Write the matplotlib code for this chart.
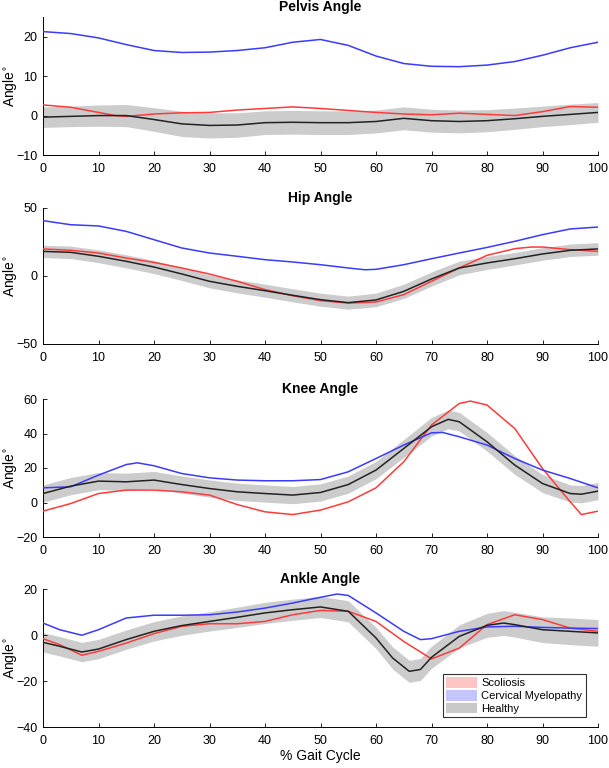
import matplotlib
matplotlib.use("Agg")
import matplotlib.pyplot as plt
from matplotlib.patches import Patch
import numpy as np

plt.rcParams['font.family'] = ['Liberation Sans', 'DejaVu Sans']

titles = ["Pelvis Angle", "Hip Angle", "Knee Angle", "Ankle Angle"]
ylims = [(-10, 25), (-50, 50), (-20, 60), (-40, 20)]
yticks = [[-10, 0, 10, 20], [-50, 0, 50], [-20, 0, 20, 40, 60], [-40, -20, 0, 20]]
legend_labels = ["Scoliosis", "Cervical Myelopathy", "Healthy"]

# ---- Pelvis ----
pelvis_blue_x = [0, 5, 10, 15, 20, 25, 30, 35, 40, 45, 50, 55, 60, 65, 70, 75, 80, 85, 90, 95, 100]
pelvis_blue_y = [21.3, 20.8, 19.7, 18.0, 16.5, 16.0, 16.1, 16.5, 17.2, 18.6, 19.3, 17.8, 15.1, 13.2, 12.5, 12.4, 12.8, 13.7, 15.3, 17.2, 18.6]
pelvis_red_x = [0, 5, 10, 13, 15, 20, 25, 30, 35, 40, 45, 50, 55, 60, 65, 70, 75, 80, 85, 90, 95, 100]
pelvis_red_y = [2.7, 2.1, 0.8, 0.0, -0.2, 0.4, 0.7, 0.8, 1.4, 1.8, 2.2, 1.8, 1.3, 0.8, 0.4, 0.2, 0.6, 0.3, 0.0, 1.0, 2.3, 2.1]
pelvis_black_x = [0, 5, 10, 15, 20, 25, 30, 35, 40, 45, 50, 55, 60, 65, 70, 75, 80, 85, 90, 95, 100]
pelvis_black_y = [-0.4, -0.2, 0.0, 0.0, -1.0, -2.1, -2.5, -2.4, -1.8, -1.7, -1.8, -1.8, -1.5, -0.7, -1.3, -1.5, -1.3, -0.8, -0.2, 0.3, 0.8]
pelvis_std = [2.6, 2.6, 2.7, 2.8, 3.0, 3.2, 3.2, 3.1, 3.0, 3.0, 3.0, 3.0, 2.9, 2.9, 2.9, 2.9, 2.8, 2.7, 2.6, 2.6, 2.5]

# ---- Hip ----
hip_blue_x = [0, 5, 10, 15, 20, 25, 30, 35, 40, 45, 50, 55, 58, 60, 65, 70, 75, 80, 85, 90, 95, 100]
hip_blue_y = [40.7, 37.7, 36.8, 32.8, 26.7, 20.6, 16.9, 14.5, 12.0, 10.3, 8.3, 5.9, 4.6, 4.9, 8.3, 12.7, 16.9, 21.0, 25.5, 30.4, 34.6, 36.0]
hip_red_x = [0, 5, 10, 15, 20, 25, 30, 35, 40, 45, 50, 55, 60, 65, 70, 75, 80, 85, 88, 90, 95, 100]
hip_red_y = [19.9, 18.9, 16.9, 13.2, 10.0, 5.9, 1.5, -3.9, -10.0, -14.5, -18.1, -19.9, -19.1, -13.7, -3.9, 5.9, 15.2, 20.1, 21.3, 21.3, 19.4, 18.1]
hip_black_x = [0, 5, 10, 15, 20, 25, 30, 35, 40, 45, 50, 55, 60, 65, 70, 75, 80, 85, 90, 95, 100]
hip_black_y = [18.1, 17.4, 14.5, 10.8, 6.6, 1.5, -3.9, -7.6, -10.8, -14.2, -17.4, -19.6, -17.6, -11.3, -2.2, 5.9, 9.6, 12.7, 16.2, 18.9, 19.9]
hip_std = [4.5, 4.6, 4.7, 4.8, 4.8, 4.8, 4.8, 4.8, 4.8, 4.8, 4.8, 4.8, 5.0, 5.2, 5.2, 5.0, 4.8, 4.6, 4.6, 4.6, 4.6]

# ---- Knee ----
knee_blue_x = [0, 5, 10, 15, 17, 20, 25, 30, 35, 40, 45, 50, 55, 60, 65, 70, 72, 75, 80, 85, 90, 95, 100]
knee_blue_y = [8.5, 9.1, 15.9, 22.0, 23.0, 21.3, 16.8, 14.3, 13.0, 12.6, 12.6, 13.3, 17.8, 25.5, 33.3, 40.4, 40.6, 38.1, 33.3, 25.5, 18.8, 13.9, 8.5]
knee_red_x = [0, 5, 10, 15, 20, 25, 30, 35, 40, 45, 50, 55, 60, 65, 70, 75, 77, 80, 85, 90, 95, 97, 100]
knee_red_y = [-5.0, -0.6, 5.2, 7.2, 7.2, 6.2, 4.3, -1.2, -5.4, -7.0, -4.4, 0.4, 8.5, 23.6, 44.9, 57.4, 58.8, 56.5, 42.9, 19.7, 0.4, -7.0, -5.0]
knee_black_x = [0, 5, 10, 15, 20, 25, 30, 35, 40, 45, 50, 55, 60, 65, 70, 73, 75, 80, 85, 90, 95, 97, 100]
knee_black_y = [5.2, 9.5, 12.4, 12.0, 13.0, 10.4, 8.1, 6.2, 5.2, 4.3, 5.8, 10.4, 18.8, 31.3, 43.9, 48.2, 46.8, 35.2, 21.7, 11.0, 5.2, 4.8, 6.6]
knee_std = [5.0, 5.0, 5.0, 5.0, 5.0, 5.0, 5.0, 5.0, 5.0, 5.0, 5.0, 5.0, 5.0, 5.2, 5.4, 5.4, 5.4, 5.4, 5.4, 5.2, 5.0, 5.0, 5.0]

# ---- Ankle ----
ankle_blue_x = [0, 3, 7, 10, 15, 20, 25, 30, 35, 40, 45, 50, 53, 55, 60, 65, 68, 70, 75, 80, 85, 90, 95, 100]
ankle_blue_y = [5.2, 2.3, -0.1, 2.3, 7.4, 8.6, 8.6, 8.8, 10.0, 11.7, 13.9, 16.4, 17.8, 17.2, 9.6, 1.6, -2.0, -1.6, 1.6, 3.5, 3.8, 3.3, 3.0, 2.8]
ankle_red_x = [0, 3, 7, 10, 15, 20, 25, 30, 35, 40, 45, 50, 55, 60, 65, 70, 75, 80, 85, 90, 95, 100]
ankle_red_y = [-1.6, -4.2, -8.8, -7.1, -3.5, 0.6, 3.8, 4.9, 4.9, 5.9, 8.8, 10.7, 10.3, 5.9, -2.8, -10.4, -5.7, 4.5, 8.8, 6.7, 3.0, 1.6]
ankle_black_x = [0, 3, 7, 10, 15, 20, 25, 30, 35, 40, 45, 50, 55, 60, 63, 66, 68, 70, 75, 80, 83, 85, 90, 95, 100]
ankle_black_y = [-3.2, -4.9, -7.4, -6.1, -2.0, 1.6, 4.1, 5.9, 7.7, 9.6, 11.0, 12.2, 10.3, -1.3, -10.0, -15.8, -15.0, -9.7, -0.6, 4.2, 5.2, 4.5, 2.3, 1.6, 0.9]
ankle_std = [4.2, 4.2, 4.2, 4.2, 4.2, 4.2, 4.2, 4.2, 4.4, 4.6, 4.6, 4.6, 4.6, 4.6, 4.8, 4.8, 4.8, 4.8, 5.0, 5.2, 5.4, 5.4, 5.6, 5.8, 5.8]

panels = [
    (pelvis_blue_x, pelvis_blue_y, pelvis_red_x, pelvis_red_y, pelvis_black_x, pelvis_black_y, pelvis_std),
    (hip_blue_x, hip_blue_y, hip_red_x, hip_red_y, hip_black_x, hip_black_y, hip_std),
    (knee_blue_x, knee_blue_y, knee_red_x, knee_red_y, knee_black_x, knee_black_y, knee_std),
    (ankle_blue_x, ankle_blue_y, ankle_red_x, ankle_red_y, ankle_black_x, ankle_black_y, ankle_std),
]

W, H = 609, 768
fig = plt.figure(figsize=(W / 100, H / 100), dpi=100)
tops = [17, 208, 399, 589]
bottoms = [155, 344, 537, 727]
left_px, right_px = 43, 598

blue = '#3b3bff'
red = '#ff3b3b'
black = '#222222'
band = '#cccccc'

for i, (bx, by, rx, ry, kx, ky, ks) in enumerate(panels):
    ax = fig.add_axes([left_px / W, 1 - bottoms[i] / H, (right_px - left_px) / W, (bottoms[i] - tops[i]) / H])
    kx_a = np.array(kx)
    ky_a = np.array(ky)
    ks_a = np.array(ks)
    ax.fill_between(kx_a, ky_a - ks_a, ky_a + ks_a, color=band, lw=0, zorder=1)
    ax.plot(rx, ry, color=red, lw=1.1, zorder=3)
    ax.plot(bx, by, color=blue, lw=1.1, zorder=3)
    ax.plot(kx, ky, color=black, lw=1.1, zorder=4)
    ax.set_xlim(0, 100)
    ax.set_ylim(*ylims[i])
    ax.set_xticks(range(0, 101, 10))
    ax.set_yticks(yticks[i])
    ax.tick_params(direction='in', length=3, width=0.6, labelsize=9)
    ax.tick_params(axis='x', pad=6)
    ax.tick_params(axis='y', pad=4)
    for s in ['top', 'right']:
        ax.spines[s].set_visible(False)
    for s in ['left', 'bottom']:
        ax.spines[s].set_linewidth(0.7)
    ax.set_title(titles[i], fontsize=10, fontweight='bold', pad=4)
    ax.set_ylabel(r'Angle$^{\circ}$', fontsize=10)
    ax.yaxis.set_label_coords(-0.043, 0.5)
    if i == 3:
        ax.set_xlabel('% Gait Cycle', fontsize=10, labelpad=1)
        handles = [Patch(facecolor='#ffc4c4', edgecolor='none'),
                   Patch(facecolor='#c4c4ff', edgecolor='none'),
                   Patch(facecolor='#c8c8c8', edgecolor='none')]
        leg = ax.legend(handles, legend_labels, loc='lower right', bbox_to_anchor=(0.978, 0.072),
                        fontsize=8, frameon=True, fancybox=False, framealpha=1,
                        handlelength=2.8, handleheight=1.1, handletextpad=0.4,
                        labelspacing=0.15, borderpad=0.3, borderaxespad=0)
        leg.get_frame().set_edgecolor('#333333')
        leg.get_frame().set_linewidth(0.8)

fig.savefig('out.png', dpi=100)
